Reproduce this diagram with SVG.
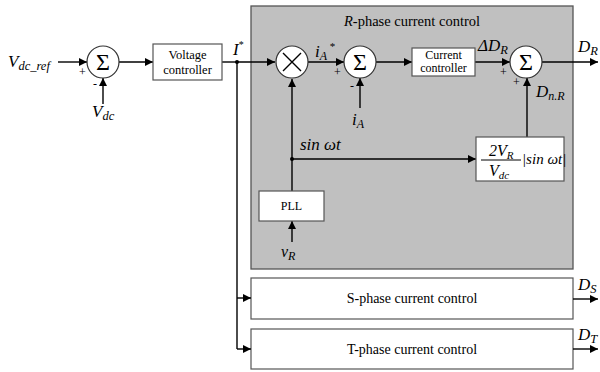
<svg xmlns="http://www.w3.org/2000/svg" width="600" height="372" viewBox="0 0 600 372" font-family="Liberation Serif, DejaVu Serif, serif">
<defs>
<marker id="ah" viewBox="0 0 10 10" refX="10" refY="5" markerWidth="8" markerHeight="8" markerUnits="userSpaceOnUse" orient="auto"><path d="M0,0 L10,5 L0,10 z" fill="#000"/></marker>
<style>
.ln{stroke:#000;stroke-width:1.4;fill:none}
.ar{stroke:#000;stroke-width:1.4;fill:none;marker-end:url(#ah)}
.bx{fill:#fff;stroke:#555;stroke-width:1.2}
.ci{fill:#fff;stroke:#333;stroke-width:1.2}
.m{font-style:italic}
.sg{font-size:24px;text-anchor:middle}
.pm{font-size:12px}
</style>
</defs>
<rect width="600" height="372" fill="#fff"/>
<g id="r-phase"><rect x="251" y="6" width="322" height="263" fill="#c0c0c0" stroke="#555" stroke-width="1.3"/>
<text x="412" y="26" font-size="14.5" text-anchor="middle"><tspan font-style="italic">R</tspan>-phase current control</text></g>
<g id="s-phase"><rect class="bx" x="251" y="278" width="322" height="41"/><text x="412" y="303" font-size="14" text-anchor="middle">S-phase current control</text></g>
<g id="t-phase"><rect class="bx" x="251" y="329" width="322" height="40"/><text x="412" y="354" font-size="14" text-anchor="middle">T-phase current control</text></g>
<g id="connectors">
<line class="ar" x1="58" y1="62" x2="87" y2="62"/>
<line class="ar" x1="103" y1="104" x2="103" y2="78"/>
<line class="ar" x1="119" y1="62" x2="153" y2="62"/>
<line class="ln" x1="222" y1="62" x2="237" y2="62"/>
<line class="ar" x1="237" y1="62" x2="275" y2="62"/>
<line class="ln" x1="237" y1="62" x2="237" y2="349"/>
<line class="ar" x1="237" y1="298" x2="251" y2="298"/>
<line class="ar" x1="237" y1="349" x2="251" y2="349"/>
<circle cx="237" cy="62" r="2" fill="#000"/>
<line class="ar" x1="308" y1="62" x2="344" y2="62"/>
<line class="ar" x1="360" y1="108" x2="360" y2="78"/>
<line class="ar" x1="376" y1="62" x2="412" y2="62"/>
<line class="ar" x1="475" y1="62" x2="510" y2="62"/>
<line class="ar" x1="542" y1="62" x2="598" y2="62"/>
<line class="ar" x1="527" y1="137" x2="527" y2="78"/>
<line class="ar" x1="292" y1="191" x2="292" y2="79"/>
<line class="ar" x1="292" y1="159" x2="476" y2="159"/>
<circle cx="292" cy="159" r="2" fill="#000"/>
<line class="ar" x1="292" y1="242" x2="292" y2="221"/>
<line class="ar" x1="573" y1="299" x2="598" y2="299"/>
<line class="ar" x1="573" y1="349" x2="598" y2="349"/>
</g>
<g id="sum1"><circle class="ci" cx="103" cy="62" r="16"/><text class="sg" x="103" y="70">Σ</text>
<text class="pm" x="79" y="76">+</text><text class="pm" x="93" y="88" font-size="15">-</text></g>
<g id="vc"><rect class="bx" x="153" y="44" width="69" height="36"/><text x="187.5" y="59" font-size="12.5" text-anchor="middle">Voltage</text><text x="187.5" y="74" font-size="12.5" text-anchor="middle">controller</text></g>
<g id="mult"><circle class="ci" cx="292" cy="62" r="16"/><path d="M283,53 L301,71 M301,53 L283,71" stroke="#000" stroke-width="1.4"/></g>
<g id="sum2"><circle class="ci" cx="360" cy="62" r="16"/><text class="sg" x="360" y="70">Σ</text>
<text class="pm" x="334" y="76">+</text><text class="pm" x="350" y="90" font-size="15">-</text></g>
<g id="cc"><rect class="bx" x="412" y="48" width="63" height="28"/><text x="443.5" y="59" font-size="12" text-anchor="middle">Current</text><text x="443.5" y="72" font-size="12" text-anchor="middle">controller</text></g>
<g id="sum3"><circle class="ci" cx="526" cy="62" r="16"/><text class="sg" x="526" y="70">Σ</text>
<text class="pm" x="500" y="76">+</text><text class="pm" x="513" y="86">+</text></g>
<g id="ff"><rect class="bx" x="476" y="137" width="88" height="44"/>
<text class="m" x="489" y="156" font-size="16">2V<tspan font-size="11" dy="3">R</tspan></text>
<line x1="481" y1="160" x2="521" y2="160" stroke="#000" stroke-width="1"/>
<text class="m" x="489" y="176" font-size="16">V<tspan font-size="11" dy="3">dc</tspan></text>
<text class="m" x="522" y="164" font-size="15">|sin ωt|</text></g>
<g id="pll"><rect class="bx" x="259" y="191" width="65" height="30"/><text x="291.5" y="210" font-size="12" text-anchor="middle">PLL</text></g>
<g id="labels">
<text class="m" x="8" y="67" font-size="17">V<tspan font-size="12.5" dy="3">dc_ref</tspan></text>
<text class="m" x="92" y="117" font-size="17">V<tspan font-size="12.5" dy="3">dc</tspan></text>
<text class="m" x="233" y="55" font-size="17">I<tspan font-size="10" dy="-7" font-style="normal">*</tspan></text>
<text class="m" x="315" y="57" font-size="17">i<tspan font-size="12" dy="3">A</tspan><tspan font-size="11" dy="-10" font-style="normal"> *</tspan></text>
<text class="m" x="352" y="125" font-size="17">i<tspan font-size="12" dy="3">A</tspan></text>
<text class="m" x="478" y="51" font-size="17">ΔD<tspan font-size="12.5" dy="3">R</tspan></text>
<text class="m" x="536" y="97" font-size="17">D<tspan font-size="12" dy="3">n.R</tspan></text>
<text class="m" x="578" y="52" font-size="17">D<tspan font-size="12.5" dy="3">R</tspan></text>
<text class="m" x="300" y="150" font-size="17">sin ωt</text>
<text class="m" x="281" y="257" font-size="16">v<tspan font-size="12" dy="3">R</tspan></text>
<text class="m" x="578" y="290" font-size="17">D<tspan font-size="12.5" dy="3">S</tspan></text>
<text class="m" x="578" y="340" font-size="17">D<tspan font-size="12.5" dy="3">T</tspan></text>
</g>
</svg>
